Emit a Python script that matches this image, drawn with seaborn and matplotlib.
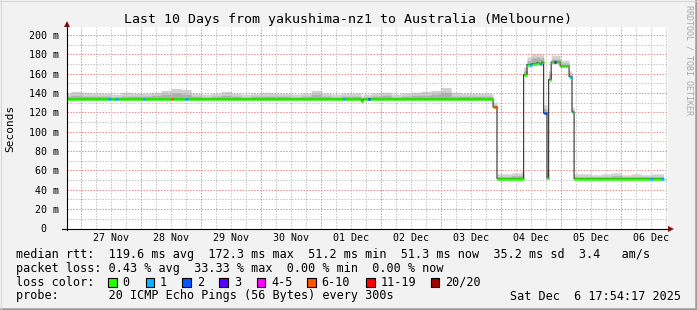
import numpy as np
import pandas as pd
import matplotlib
matplotlib.use("Agg")
import matplotlib.pyplot as plt
import matplotlib.dates as mdates
from matplotlib.lines import Line2D
from matplotlib.patches import Rectangle
import seaborn as sns

# ---------------- data ----------------
median_times = ["2025-11-26 18:24", "2025-12-01 16:00", "2025-12-01 16:48",
                "2025-12-03 20:48", "2025-12-03 22:24", "2025-12-04 09:00",
                "2025-12-04 10:24", "2025-12-04 12:24", "2025-12-04 14:24",
                "2025-12-04 15:12", "2025-12-04 16:24", "2025-12-04 17:00",
                "2025-12-04 18:24", "2025-12-04 19:00", "2025-12-04 20:00",
                "2025-12-04 23:36", "2025-12-05 03:12", "2025-12-05 04:24",
                "2025-12-05 05:12"]
median_ms = [133.8, 131.8, 133.8, 125.5, 51.5, 159.0, 169.5, 170.5, 171.5,
             170.0, 172.0, 119.0, 52.0, 154.0, 172.0, 168.0, 157.0, 120.5, 51.5]
data_end = "2025-12-06 17:00"

loss_times = ["2025-11-27 10:48", "2025-11-27 13:36", "2025-11-28 00:42",
              "2025-11-28 11:54", "2025-11-28 17:42", "2025-12-01 08:42",
              "2025-12-01 18:42", "2025-12-03 21:12", "2025-12-04 11:12",
              "2025-12-04 15:24", "2025-12-04 17:12", "2025-12-04 21:00",
              "2025-12-05 03:36", "2025-12-06 11:36", "2025-12-06 16:00"]
loss_counts = [1, 1, 1, 7, 1, 1, 2, 7, 1, 1, 2, 3, 1, 1, 1]

smoke_start = "2025-11-26 16:00"   # 4 hour bins
smoke_outer = [6, 8, 7, 6, 6, 5, 7, 6, 6, 7, 9, 11, 10, 6, 5, 6, 8, 6, 5, 6,
               7, 6, 6, 5, 6, 9, 6, 5, 6, 6, 5, 6, 7, 5, 6, 7, 8, 9, 12, 7,
               6, 6, 6, 5, 5, 6, 8, 10, 9, 7, 6, 5, 5, 4, 5, 6, 4, 5, 4, 5, 5]
smoke_inner = [3, 4, 3, 3, 3, 2, 3, 3, 3, 4, 5, 6, 5, 3, 2, 3, 4, 3, 2, 3,
               3, 3, 3, 2, 3, 5, 3, 2, 3, 3, 2, 3, 4, 2, 3, 4, 4, 5, 7, 3,
               3, 3, 3, 2, 2, 3, 4, 6, 5, 3, 3, 2, 2, 2, 2, 3, 2, 2, 2, 2, 2]

loss_labels = ["0", "1", "2", "3", "4-5", "6-10", "11-19", "20/20"]
loss_colors = ["#26ff00", "#00b8ff", "#0059ff", "#5e00ff", "#ff00ff",
               "#ff5500", "#ff0000", "#a00000"]

day_labels = ["27 Nov", "28 Nov", "29 Nov", "30 Nov", "01 Dec", "02 Dec",
              "03 Dec", "04 Dec", "05 Dec", "06 Dec"]
y_ticks = [0, 20, 40, 60, 80, 100, 120, 140, 160, 180, 200]

title = "Last 10 Days from yakushima-nz1 to Australia (Melbourne)"
legend_lines = [
    "median rtt:  119.6 ms avg  172.3 ms max  51.2 ms min  51.3 ms now  35.2 ms sd  3.4   am/s",
    "packet loss: 0.43 % avg  33.33 % max  0.00 % min  0.00 % now",
    "loss color:",
    "probe:       20 ICMP Echo Pings (56 Bytes) every 300s",
]
stamp = "Sat Dec  6 17:54:17 2025"

# ---------------- build series ----------------
W, H = 697, 310
FONT = "DejaVu Sans Mono"
plt.rcParams["font.family"] = [FONT, "DejaVu Sans"]

x_start = pd.Timestamp("2025-11-26 18:24")
x_end = x_start + pd.Timedelta(minutes=24 * 600.7)

t = pd.date_range(x_start, data_end, freq="5min")
tn = mdates.date2num(t.to_pydatetime())
step = 5.0 / 1440.0

bp = mdates.date2num(pd.to_datetime(median_times).to_pydatetime())
med = np.asarray(median_ms)[np.searchsorted(bp, tn, side="right") - 1]

sb0 = mdates.date2num(pd.Timestamp(smoke_start).to_pydatetime())
sbin = ((tn - sb0) // (4 / 24)).astype(int)
hi_outer = med + np.asarray(smoke_outer, float)[sbin]
hi_inner = med + np.asarray(smoke_inner, float)[sbin]

def loss_class(n):
    if n <= 3:
        return n
    if n <= 5:
        return 4
    if n <= 10:
        return 5
    if n <= 19:
        return 6
    return 7

cls = np.zeros(len(tn), int)
lt = mdates.date2num(pd.to_datetime(loss_times).to_pydatetime())
for tt, n in zip(lt, loss_counts):
    cls[(tn >= tt) & (tn < tt + 1 / 24)] = loss_class(n)

# ---------------- figure ----------------
fig = plt.figure(figsize=(W / 100, H / 100), dpi=100, facecolor="#f2f2f2")
L, R, T, B = 67, 667.7, 27, 228.5
ax = fig.add_axes([L / W, 1 - B / H, (R - L) / W, (B - T) / H])
ax.set_facecolor("white")
ymax = (B - T) / ((B - 35) / 200)
ax.set_ylim(0, ymax)
ax.set_xlim(mdates.date2num(x_start.to_pydatetime()),
            mdates.date2num(x_end.to_pydatetime()))
for s in ax.spines.values():
    s.set_visible(False)

# smoke
ax.fill_between(tn, med - 0.8, hi_outer, step="post", color="#d2d2d2", lw=0, zorder=1)
ax.fill_between(tn, med - 0.4, hi_inner, step="post", color="#aeaeae", lw=0, zorder=1)

# grid (dotted)
GRID_MINOR = "#c4c4c4"
GRID_MAJOR = "#ec8c8c"
for v in range(10, 201, 10):
    ax.axhline(v, color=GRID_MAJOR if v % 20 == 0 else GRID_MINOR,
               lw=0.75, ls=(0, (1.4, 1.4)), zorder=2)
g = pd.date_range("2025-11-27 00:00", "2025-12-06 18:00", freq="6h")
for d in g:
    ax.axvline(mdates.date2num(d.to_pydatetime()),
               color=GRID_MAJOR if d.hour == 0 else GRID_MINOR,
               lw=0.75, ls=(0, (1.4, 1.4)), zorder=2)

# median line (thin dark) and loss coloured median
sns.lineplot(x=tn, y=med, ax=ax, drawstyle="steps-post", color="#202020",
             linewidth=0.75, estimator=None, sort=False, zorder=3)
for c, col in enumerate(loss_colors):
    m = cls == c
    if m.any():
        ax.hlines(med[m], tn[m], tn[m] + step, colors=col, lw=2.2, zorder=4)

# ticks
noon = pd.date_range("2025-11-27 12:00", periods=len(day_labels), freq="D")
ax.set_xticks(mdates.date2num(noon.to_pydatetime()))
ax.set_xticklabels(day_labels, fontsize=7.2, family=FONT)
ax.set_yticks(y_ticks)
ax.set_yticklabels([f"{v} m" if v else "0  " for v in y_ticks],
                   fontsize=7.2, family=FONT)
ax.tick_params(axis="x", length=0, pad=3.2)
ax.tick_params(axis="y", length=0, pad=5.7)
ax.set_xlabel("")
ax.set_ylabel("")

def fx(x):
    return x / W

def fy(y):
    return 1 - y / H

# axes lines and arrows
fig.add_artist(Line2D([fx(L), fx(L)], [fy(B + 1), fy(25)], color="black", lw=0.8))
fig.add_artist(Line2D([fx(62), fx(670)], [fy(B), fy(B)], color="black", lw=0.8))
fig.add_artist(Line2D([fx(L)], [fy(23.5)], marker="^", ms=5, color="#7f1010", mew=0))
fig.add_artist(Line2D([fx(670.5)], [fy(B)], marker=">", ms=5, color="#7f1010", mew=0))

# bevel frame
fig.add_artist(Line2D([0, 1], [fy(H - 1.2)] * 2, color="#9c9c9c", lw=1.8))
fig.add_artist(Line2D([fx(W - 1.2)] * 2, [0, 1], color="#9c9c9c", lw=1.8))
fig.add_artist(Line2D([0, 1], [fy(0.5)] * 2, color="#d6d6d6", lw=0.8))
fig.add_artist(Line2D([fx(0.5)] * 2, [0, 1], color="#d6d6d6", lw=0.8))

# texts
fig.text(fx(348.5), fy(19), title, ha="center", va="center", fontsize=9.5, family=FONT)
fig.text(fx(10), fy(128), "Seconds", rotation=90, ha="center", va="center",
         fontsize=8, family=FONT)
fig.text(fx(689), fy(60), "RRDTOOL / TOBI OETIKER", rotation=270, ha="center",
         va="center", fontsize=6.0, family=FONT, color="#a8a8a8")

row_y = [254.3, 268.3, 282.3, 296.0]
for txt, yy in zip(legend_lines, row_y):
    fig.text(fx(16), fy(yy), txt, ha="left", va="center", fontsize=8.5, family=FONT)
fig.text(fx(681), fy(296.0), stamp, ha="right", va="center", fontsize=8.5, family=FONT)

box_x = [108.3, 145.7, 182.3, 219.3, 256.5, 307.0, 366.0, 430.7]
for bx, lab, col in zip(box_x, loss_labels, loss_colors):
    fig.add_artist(Rectangle((fx(bx), fy(286.6)), 8.5 / W, 8.5 / H, facecolor=col,
                             edgecolor="black", lw=0.8, transform=fig.transFigure))
    fig.text(fx(bx + 14.4), fy(282.3), lab, ha="left", va="center", fontsize=8.5, family=FONT)

fig.savefig("out.png", dpi=100, facecolor=fig.get_facecolor())
